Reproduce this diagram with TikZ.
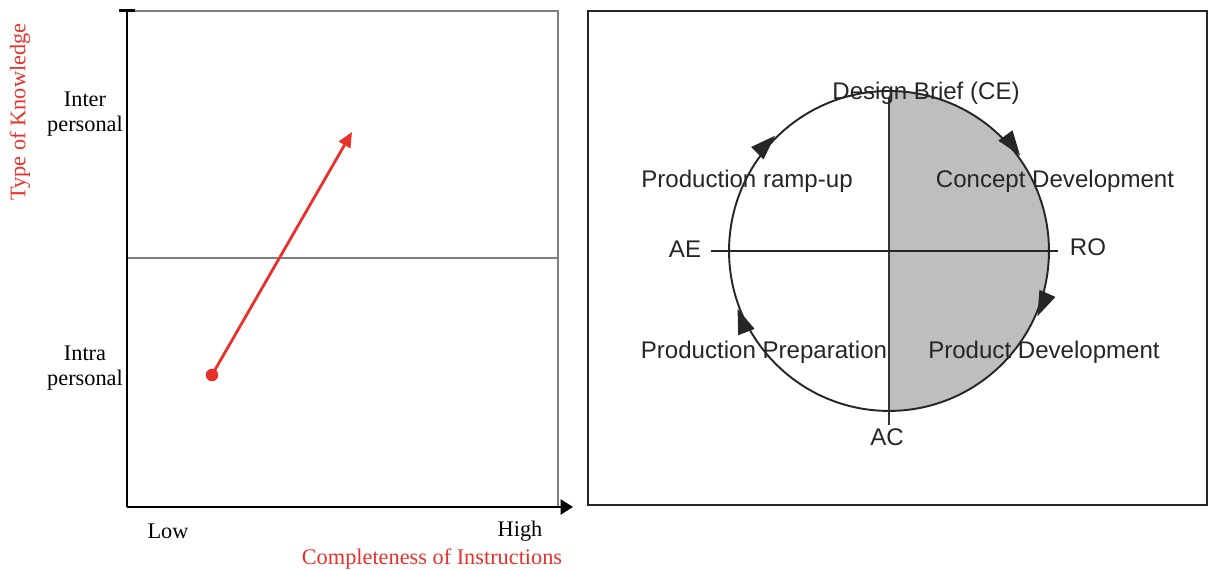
\documentclass[tikz,border=0pt]{standalone}
\usepackage{fontspec}
\setmainfont{Liberation Serif}
\newfontfamily\hv{Liberation Sans}
\usetikzlibrary{arrows.meta,decorations.markings}
\definecolor{myred}{HTML}{E8312B}
\definecolor{fillgray}{HTML}{BEBEBE}
\begin{document}
\begin{tikzpicture}[x=0.02cm,y=0.02cm,
  serif/.style={font=\fontsize{12.7}{14.5}\selectfont, inner sep=0pt},
  sans/.style={font=\hv\fontsize{13.7}{16}\selectfont, inner sep=0pt, text=black!85},
  axisline/.style={line width=1.7pt},
  thinline/.style={line width=0.6pt, black!50},
  circtip/.style={decoration={markings,
      mark=at position 0.150 with {\arrow[yshift=1.2pt]{Triangle[length=0.5cm,width=0.34cm]}},
      mark=at position 0.316 with {\arrow[yshift=1.2pt]{Triangle[length=0.5cm,width=0.34cm]}},
      mark=at position 0.692 with {\arrow[yshift=1.2pt]{Triangle[length=0.5cm,width=0.34cm]}},
      mark=at position 0.876 with {\arrow[yshift=1.2pt]{Triangle[length=0.5cm,width=0.34cm]}}},
      postaction={decorate}},
  ]
\useasboundingbox (0,0) rectangle (1208,571);
% ---------------- left panel ----------------
\coordinate (tl) at (127,560);
\coordinate (o) at (127,64);
\coordinate (tr) at (558,560);
\coordinate (br) at (558,64);
\coordinate (xend) at (573,64);
\coordinate (ml) at (127,313);
\coordinate (mr) at (558,313);
\coordinate (ticka) at (119,560);
\coordinate (tickb) at (135,560);
\draw[thinline] (tl) -- (tr) -- (br);
\draw[thinline] (ml) -- (mr);
\draw[axisline] (ticka) -- (tickb);
\draw[axisline] (tl) -- (o);
\draw[axisline, -{Triangle[length=0.25cm,width=0.3cm]}] (o) -- (xend);

\node[serif, align=center] (inter) at (85,457) {Inter\\personal};
\node[serif, align=center] (intra) at (85,203) {Intra\\personal};
\node[serif] (low) at (168,40) {Low};
\node[serif] (high) at (520,40) {High};
\node[serif, text=myred] (xlab) at (432,12) {Completeness of Instructions};
\node[serif, text=myred, rotate=90] (ylab) at (20,459) {Type of Knowledge};

\node[circle, fill=myred, inner sep=0pt, minimum size=0.25cm] (dot) at (212,196) {};
\coordinate (tip) at (352,439);
\draw[myred, line width=1.6pt, -{Triangle[length=0.3cm,width=0.26cm]}] (dot.center) -- (tip);

% ---------------- right panel ----------------
\draw[line width=0.9pt, black!85] (588,66) rectangle (1207,560);
\coordinate (O) at (889,320);
\coordinate (top) at (889,480);
\fill[fillgray] (top) arc[start angle=90, end angle=-90, radius=3.2cm] -- cycle;
\draw[line width=1.1pt, black!85, circtip] (top) arc[start angle=90, end angle=-270, radius=3.2cm];
\coordinate (vt) at (889,474);
\coordinate (vb) at (889,146);
\coordinate (hl) at (711,320);
\coordinate (hr) at (1058,320);
\draw[line width=0.9pt, black!80] (vt) -- (vb);
\draw[line width=0.9pt, black!85] (hl) -- (hr);

\node[sans] (db) at (926,478) {Design Brief (CE)};
\node[sans] (cd) at (1055,390) {Concept Development};
\node[sans] (pr) at (747,390) {Production ramp-up};
\node[sans] (ro) at (1088,324) {RO};
\node[sans] (ae) at (685,322) {AE};
\node[sans] (pp) at (764,219) {Production Preparation};
\node[sans] (pd) at (1044,219) {Product Development};
\node[sans] (ac) at (887,134) {AC};
\end{tikzpicture}
\end{document}
